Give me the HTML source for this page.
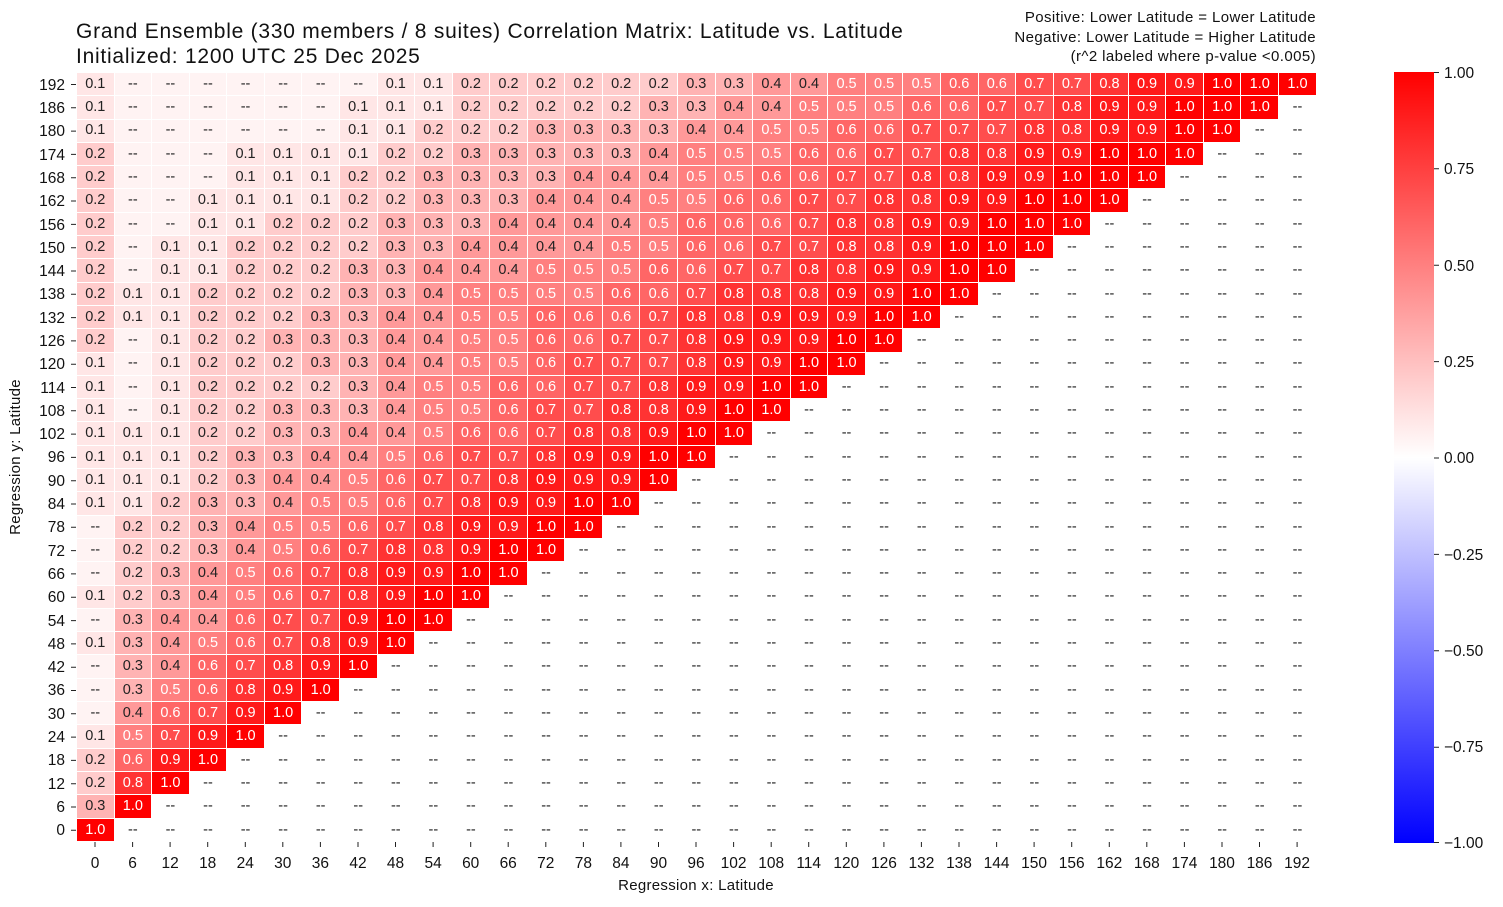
<!DOCTYPE html>
<html><head><meta charset="utf-8"><style>
body{margin:0;width:1503px;height:907px;background:#fff;font-family:"Liberation Sans",sans-serif;position:relative;overflow:hidden;color:#111}
.t{position:absolute;white-space:nowrap}
table{position:absolute;left:76px;top:72px;width:1241px;height:770px;border-collapse:collapse;table-layout:fixed}
td{border:1px solid #fff;padding:0;text-align:center;font-size:14.5px;line-height:1;height:22.3px;color:#222;overflow:hidden}
.m{background:#fff3f3}
.c1{background:#ffe6e6}.c2{background:#ffcccc}.c3{background:#ffb3b3}.c4{background:#ff9999}
.c5{background:#ff8080;color:#fff}.c6{background:#ff6666;color:#fff}.c7{background:#ff4d4d;color:#fff}
.c8{background:#ff3333;color:#fff}.c9{background:#ff1a1a;color:#fff}.c10{background:#ff0000;color:#fff}
</style></head><body>
<div class="t" style="left:76px;top:19px;font-size:21px;letter-spacing:0.75px;line-height:25px">Grand Ensemble (330 members / 8 suites) Correlation Matrix: Latitude vs. Latitude<br>Initialized: 1200 UTC 25 Dec 2025</div>
<div class="t" style="right:187px;top:8px;font-size:15px;letter-spacing:0.4px;line-height:19.5px;text-align:right">Positive: Lower Latitude = Lower Latitude<br>Negative: Lower Latitude = Higher Latitude<br>(r^2 labeled where p-value &lt;0.005)</div>
<table>
<tr><td class=c1>0.1<td class=m>--<td class=m>--<td class=m>--<td class=m>--<td class=m>--<td class=m>--<td class=m>--<td class=c1>0.1<td class=c1>0.1<td class=c2>0.2<td class=c2>0.2<td class=c2>0.2<td class=c2>0.2<td class=c2>0.2<td class=c2>0.2<td class=c3>0.3<td class=c3>0.3<td class=c4>0.4<td class=c4>0.4<td class=c5>0.5<td class=c5>0.5<td class=c5>0.5<td class=c6>0.6<td class=c6>0.6<td class=c7>0.7<td class=c7>0.7<td class=c8>0.8<td class=c9>0.9<td class=c9>0.9<td class=c10>1.0<td class=c10>1.0<td class=c10>1.0
<tr><td class=c1>0.1<td class=m>--<td class=m>--<td class=m>--<td class=m>--<td class=m>--<td class=m>--<td class=c1>0.1<td class=c1>0.1<td class=c1>0.1<td class=c2>0.2<td class=c2>0.2<td class=c2>0.2<td class=c2>0.2<td class=c2>0.2<td class=c3>0.3<td class=c3>0.3<td class=c4>0.4<td class=c4>0.4<td class=c5>0.5<td class=c5>0.5<td class=c5>0.5<td class=c6>0.6<td class=c6>0.6<td class=c7>0.7<td class=c7>0.7<td class=c8>0.8<td class=c9>0.9<td class=c9>0.9<td class=c10>1.0<td class=c10>1.0<td class=c10>1.0<td>--
<tr><td class=c1>0.1<td class=m>--<td class=m>--<td class=m>--<td class=m>--<td class=m>--<td class=m>--<td class=c1>0.1<td class=c1>0.1<td class=c2>0.2<td class=c2>0.2<td class=c2>0.2<td class=c3>0.3<td class=c3>0.3<td class=c3>0.3<td class=c3>0.3<td class=c4>0.4<td class=c4>0.4<td class=c5>0.5<td class=c5>0.5<td class=c6>0.6<td class=c6>0.6<td class=c7>0.7<td class=c7>0.7<td class=c7>0.7<td class=c8>0.8<td class=c8>0.8<td class=c9>0.9<td class=c9>0.9<td class=c10>1.0<td class=c10>1.0<td>--<td>--
<tr><td class=c2>0.2<td class=m>--<td class=m>--<td class=m>--<td class=c1>0.1<td class=c1>0.1<td class=c1>0.1<td class=c1>0.1<td class=c2>0.2<td class=c2>0.2<td class=c3>0.3<td class=c3>0.3<td class=c3>0.3<td class=c3>0.3<td class=c3>0.3<td class=c4>0.4<td class=c5>0.5<td class=c5>0.5<td class=c5>0.5<td class=c6>0.6<td class=c6>0.6<td class=c7>0.7<td class=c7>0.7<td class=c8>0.8<td class=c8>0.8<td class=c9>0.9<td class=c9>0.9<td class=c10>1.0<td class=c10>1.0<td class=c10>1.0<td>--<td>--<td>--
<tr><td class=c2>0.2<td class=m>--<td class=m>--<td class=m>--<td class=c1>0.1<td class=c1>0.1<td class=c1>0.1<td class=c2>0.2<td class=c2>0.2<td class=c3>0.3<td class=c3>0.3<td class=c3>0.3<td class=c3>0.3<td class=c4>0.4<td class=c4>0.4<td class=c4>0.4<td class=c5>0.5<td class=c5>0.5<td class=c6>0.6<td class=c6>0.6<td class=c7>0.7<td class=c7>0.7<td class=c8>0.8<td class=c8>0.8<td class=c9>0.9<td class=c9>0.9<td class=c10>1.0<td class=c10>1.0<td class=c10>1.0<td>--<td>--<td>--<td>--
<tr><td class=c2>0.2<td class=m>--<td class=m>--<td class=c1>0.1<td class=c1>0.1<td class=c1>0.1<td class=c1>0.1<td class=c2>0.2<td class=c2>0.2<td class=c3>0.3<td class=c3>0.3<td class=c3>0.3<td class=c4>0.4<td class=c4>0.4<td class=c4>0.4<td class=c5>0.5<td class=c5>0.5<td class=c6>0.6<td class=c6>0.6<td class=c7>0.7<td class=c7>0.7<td class=c8>0.8<td class=c8>0.8<td class=c9>0.9<td class=c9>0.9<td class=c10>1.0<td class=c10>1.0<td class=c10>1.0<td>--<td>--<td>--<td>--<td>--
<tr><td class=c2>0.2<td class=m>--<td class=m>--<td class=c1>0.1<td class=c1>0.1<td class=c2>0.2<td class=c2>0.2<td class=c2>0.2<td class=c3>0.3<td class=c3>0.3<td class=c3>0.3<td class=c4>0.4<td class=c4>0.4<td class=c4>0.4<td class=c4>0.4<td class=c5>0.5<td class=c6>0.6<td class=c6>0.6<td class=c6>0.6<td class=c7>0.7<td class=c8>0.8<td class=c8>0.8<td class=c9>0.9<td class=c9>0.9<td class=c10>1.0<td class=c10>1.0<td class=c10>1.0<td>--<td>--<td>--<td>--<td>--<td>--
<tr><td class=c2>0.2<td class=m>--<td class=c1>0.1<td class=c1>0.1<td class=c2>0.2<td class=c2>0.2<td class=c2>0.2<td class=c2>0.2<td class=c3>0.3<td class=c3>0.3<td class=c4>0.4<td class=c4>0.4<td class=c4>0.4<td class=c4>0.4<td class=c5>0.5<td class=c5>0.5<td class=c6>0.6<td class=c6>0.6<td class=c7>0.7<td class=c7>0.7<td class=c8>0.8<td class=c8>0.8<td class=c9>0.9<td class=c10>1.0<td class=c10>1.0<td class=c10>1.0<td>--<td>--<td>--<td>--<td>--<td>--<td>--
<tr><td class=c2>0.2<td class=m>--<td class=c1>0.1<td class=c1>0.1<td class=c2>0.2<td class=c2>0.2<td class=c2>0.2<td class=c3>0.3<td class=c3>0.3<td class=c4>0.4<td class=c4>0.4<td class=c4>0.4<td class=c5>0.5<td class=c5>0.5<td class=c5>0.5<td class=c6>0.6<td class=c6>0.6<td class=c7>0.7<td class=c7>0.7<td class=c8>0.8<td class=c8>0.8<td class=c9>0.9<td class=c9>0.9<td class=c10>1.0<td class=c10>1.0<td>--<td>--<td>--<td>--<td>--<td>--<td>--<td>--
<tr><td class=c2>0.2<td class=c1>0.1<td class=c1>0.1<td class=c2>0.2<td class=c2>0.2<td class=c2>0.2<td class=c2>0.2<td class=c3>0.3<td class=c3>0.3<td class=c4>0.4<td class=c5>0.5<td class=c5>0.5<td class=c5>0.5<td class=c5>0.5<td class=c6>0.6<td class=c6>0.6<td class=c7>0.7<td class=c8>0.8<td class=c8>0.8<td class=c8>0.8<td class=c9>0.9<td class=c9>0.9<td class=c10>1.0<td class=c10>1.0<td>--<td>--<td>--<td>--<td>--<td>--<td>--<td>--<td>--
<tr><td class=c2>0.2<td class=c1>0.1<td class=c1>0.1<td class=c2>0.2<td class=c2>0.2<td class=c2>0.2<td class=c3>0.3<td class=c3>0.3<td class=c4>0.4<td class=c4>0.4<td class=c5>0.5<td class=c5>0.5<td class=c6>0.6<td class=c6>0.6<td class=c6>0.6<td class=c7>0.7<td class=c8>0.8<td class=c8>0.8<td class=c9>0.9<td class=c9>0.9<td class=c9>0.9<td class=c10>1.0<td class=c10>1.0<td>--<td>--<td>--<td>--<td>--<td>--<td>--<td>--<td>--<td>--
<tr><td class=c2>0.2<td class=m>--<td class=c1>0.1<td class=c2>0.2<td class=c2>0.2<td class=c3>0.3<td class=c3>0.3<td class=c3>0.3<td class=c4>0.4<td class=c4>0.4<td class=c5>0.5<td class=c5>0.5<td class=c6>0.6<td class=c6>0.6<td class=c7>0.7<td class=c7>0.7<td class=c8>0.8<td class=c9>0.9<td class=c9>0.9<td class=c9>0.9<td class=c10>1.0<td class=c10>1.0<td>--<td>--<td>--<td>--<td>--<td>--<td>--<td>--<td>--<td>--<td>--
<tr><td class=c1>0.1<td class=m>--<td class=c1>0.1<td class=c2>0.2<td class=c2>0.2<td class=c2>0.2<td class=c3>0.3<td class=c3>0.3<td class=c4>0.4<td class=c4>0.4<td class=c5>0.5<td class=c5>0.5<td class=c6>0.6<td class=c7>0.7<td class=c7>0.7<td class=c7>0.7<td class=c8>0.8<td class=c9>0.9<td class=c9>0.9<td class=c10>1.0<td class=c10>1.0<td>--<td>--<td>--<td>--<td>--<td>--<td>--<td>--<td>--<td>--<td>--<td>--
<tr><td class=c1>0.1<td class=m>--<td class=c1>0.1<td class=c2>0.2<td class=c2>0.2<td class=c2>0.2<td class=c2>0.2<td class=c3>0.3<td class=c4>0.4<td class=c5>0.5<td class=c5>0.5<td class=c6>0.6<td class=c6>0.6<td class=c7>0.7<td class=c7>0.7<td class=c8>0.8<td class=c9>0.9<td class=c9>0.9<td class=c10>1.0<td class=c10>1.0<td>--<td>--<td>--<td>--<td>--<td>--<td>--<td>--<td>--<td>--<td>--<td>--<td>--
<tr><td class=c1>0.1<td class=m>--<td class=c1>0.1<td class=c2>0.2<td class=c2>0.2<td class=c3>0.3<td class=c3>0.3<td class=c3>0.3<td class=c4>0.4<td class=c5>0.5<td class=c5>0.5<td class=c6>0.6<td class=c7>0.7<td class=c7>0.7<td class=c8>0.8<td class=c8>0.8<td class=c9>0.9<td class=c10>1.0<td class=c10>1.0<td>--<td>--<td>--<td>--<td>--<td>--<td>--<td>--<td>--<td>--<td>--<td>--<td>--<td>--
<tr><td class=c1>0.1<td class=c1>0.1<td class=c1>0.1<td class=c2>0.2<td class=c2>0.2<td class=c3>0.3<td class=c3>0.3<td class=c4>0.4<td class=c4>0.4<td class=c5>0.5<td class=c6>0.6<td class=c6>0.6<td class=c7>0.7<td class=c8>0.8<td class=c8>0.8<td class=c9>0.9<td class=c10>1.0<td class=c10>1.0<td>--<td>--<td>--<td>--<td>--<td>--<td>--<td>--<td>--<td>--<td>--<td>--<td>--<td>--<td>--
<tr><td class=c1>0.1<td class=c1>0.1<td class=c1>0.1<td class=c2>0.2<td class=c3>0.3<td class=c3>0.3<td class=c4>0.4<td class=c4>0.4<td class=c5>0.5<td class=c6>0.6<td class=c7>0.7<td class=c7>0.7<td class=c8>0.8<td class=c9>0.9<td class=c9>0.9<td class=c10>1.0<td class=c10>1.0<td>--<td>--<td>--<td>--<td>--<td>--<td>--<td>--<td>--<td>--<td>--<td>--<td>--<td>--<td>--<td>--
<tr><td class=c1>0.1<td class=c1>0.1<td class=c1>0.1<td class=c2>0.2<td class=c3>0.3<td class=c4>0.4<td class=c4>0.4<td class=c5>0.5<td class=c6>0.6<td class=c7>0.7<td class=c7>0.7<td class=c8>0.8<td class=c9>0.9<td class=c9>0.9<td class=c9>0.9<td class=c10>1.0<td>--<td>--<td>--<td>--<td>--<td>--<td>--<td>--<td>--<td>--<td>--<td>--<td>--<td>--<td>--<td>--<td>--
<tr><td class=c1>0.1<td class=c1>0.1<td class=c2>0.2<td class=c3>0.3<td class=c3>0.3<td class=c4>0.4<td class=c5>0.5<td class=c5>0.5<td class=c6>0.6<td class=c7>0.7<td class=c8>0.8<td class=c9>0.9<td class=c9>0.9<td class=c10>1.0<td class=c10>1.0<td>--<td>--<td>--<td>--<td>--<td>--<td>--<td>--<td>--<td>--<td>--<td>--<td>--<td>--<td>--<td>--<td>--<td>--
<tr><td class=m>--<td class=c2>0.2<td class=c2>0.2<td class=c3>0.3<td class=c4>0.4<td class=c5>0.5<td class=c5>0.5<td class=c6>0.6<td class=c7>0.7<td class=c8>0.8<td class=c9>0.9<td class=c9>0.9<td class=c10>1.0<td class=c10>1.0<td>--<td>--<td>--<td>--<td>--<td>--<td>--<td>--<td>--<td>--<td>--<td>--<td>--<td>--<td>--<td>--<td>--<td>--<td>--
<tr><td class=m>--<td class=c2>0.2<td class=c2>0.2<td class=c3>0.3<td class=c4>0.4<td class=c5>0.5<td class=c6>0.6<td class=c7>0.7<td class=c8>0.8<td class=c8>0.8<td class=c9>0.9<td class=c10>1.0<td class=c10>1.0<td>--<td>--<td>--<td>--<td>--<td>--<td>--<td>--<td>--<td>--<td>--<td>--<td>--<td>--<td>--<td>--<td>--<td>--<td>--<td>--
<tr><td class=m>--<td class=c2>0.2<td class=c3>0.3<td class=c4>0.4<td class=c5>0.5<td class=c6>0.6<td class=c7>0.7<td class=c8>0.8<td class=c9>0.9<td class=c9>0.9<td class=c10>1.0<td class=c10>1.0<td>--<td>--<td>--<td>--<td>--<td>--<td>--<td>--<td>--<td>--<td>--<td>--<td>--<td>--<td>--<td>--<td>--<td>--<td>--<td>--<td>--
<tr><td class=c1>0.1<td class=c2>0.2<td class=c3>0.3<td class=c4>0.4<td class=c5>0.5<td class=c6>0.6<td class=c7>0.7<td class=c8>0.8<td class=c9>0.9<td class=c10>1.0<td class=c10>1.0<td>--<td>--<td>--<td>--<td>--<td>--<td>--<td>--<td>--<td>--<td>--<td>--<td>--<td>--<td>--<td>--<td>--<td>--<td>--<td>--<td>--<td>--
<tr><td class=m>--<td class=c3>0.3<td class=c4>0.4<td class=c4>0.4<td class=c6>0.6<td class=c7>0.7<td class=c7>0.7<td class=c9>0.9<td class=c10>1.0<td class=c10>1.0<td>--<td>--<td>--<td>--<td>--<td>--<td>--<td>--<td>--<td>--<td>--<td>--<td>--<td>--<td>--<td>--<td>--<td>--<td>--<td>--<td>--<td>--<td>--
<tr><td class=c1>0.1<td class=c3>0.3<td class=c4>0.4<td class=c5>0.5<td class=c6>0.6<td class=c7>0.7<td class=c8>0.8<td class=c9>0.9<td class=c10>1.0<td>--<td>--<td>--<td>--<td>--<td>--<td>--<td>--<td>--<td>--<td>--<td>--<td>--<td>--<td>--<td>--<td>--<td>--<td>--<td>--<td>--<td>--<td>--<td>--
<tr><td class=m>--<td class=c3>0.3<td class=c4>0.4<td class=c6>0.6<td class=c7>0.7<td class=c8>0.8<td class=c9>0.9<td class=c10>1.0<td>--<td>--<td>--<td>--<td>--<td>--<td>--<td>--<td>--<td>--<td>--<td>--<td>--<td>--<td>--<td>--<td>--<td>--<td>--<td>--<td>--<td>--<td>--<td>--<td>--
<tr><td class=m>--<td class=c3>0.3<td class=c5>0.5<td class=c6>0.6<td class=c8>0.8<td class=c9>0.9<td class=c10>1.0<td>--<td>--<td>--<td>--<td>--<td>--<td>--<td>--<td>--<td>--<td>--<td>--<td>--<td>--<td>--<td>--<td>--<td>--<td>--<td>--<td>--<td>--<td>--<td>--<td>--<td>--
<tr><td class=m>--<td class=c4>0.4<td class=c6>0.6<td class=c7>0.7<td class=c9>0.9<td class=c10>1.0<td>--<td>--<td>--<td>--<td>--<td>--<td>--<td>--<td>--<td>--<td>--<td>--<td>--<td>--<td>--<td>--<td>--<td>--<td>--<td>--<td>--<td>--<td>--<td>--<td>--<td>--<td>--
<tr><td class=c1>0.1<td class=c5>0.5<td class=c7>0.7<td class=c9>0.9<td class=c10>1.0<td>--<td>--<td>--<td>--<td>--<td>--<td>--<td>--<td>--<td>--<td>--<td>--<td>--<td>--<td>--<td>--<td>--<td>--<td>--<td>--<td>--<td>--<td>--<td>--<td>--<td>--<td>--<td>--
<tr><td class=c2>0.2<td class=c6>0.6<td class=c9>0.9<td class=c10>1.0<td>--<td>--<td>--<td>--<td>--<td>--<td>--<td>--<td>--<td>--<td>--<td>--<td>--<td>--<td>--<td>--<td>--<td>--<td>--<td>--<td>--<td>--<td>--<td>--<td>--<td>--<td>--<td>--<td>--
<tr><td class=c2>0.2<td class=c8>0.8<td class=c10>1.0<td>--<td>--<td>--<td>--<td>--<td>--<td>--<td>--<td>--<td>--<td>--<td>--<td>--<td>--<td>--<td>--<td>--<td>--<td>--<td>--<td>--<td>--<td>--<td>--<td>--<td>--<td>--<td>--<td>--<td>--
<tr><td class=c3>0.3<td class=c10>1.0<td>--<td>--<td>--<td>--<td>--<td>--<td>--<td>--<td>--<td>--<td>--<td>--<td>--<td>--<td>--<td>--<td>--<td>--<td>--<td>--<td>--<td>--<td>--<td>--<td>--<td>--<td>--<td>--<td>--<td>--<td>--
<tr><td class=c10>1.0<td>--<td>--<td>--<td>--<td>--<td>--<td>--<td>--<td>--<td>--<td>--<td>--<td>--<td>--<td>--<td>--<td>--<td>--<td>--<td>--<td>--<td>--<td>--<td>--<td>--<td>--<td>--<td>--<td>--<td>--<td>--<td>--
</table>
<svg width="1503" height="907" style="position:absolute;left:0;top:0" xmlns="http://www.w3.org/2000/svg">
<g stroke="#222" stroke-width="1">
<path d="M71 84.5h5M71 107.8h5M71 131.1h5M71 154.4h5M71 177.7h5M71 201h5M71 224.4h5M71 247.7h5M71 271h5M71 294.3h5M71 317.6h5M71 340.9h5M71 364.2h5M71 387.5h5M71 410.8h5M71 434.1h5M71 457.4h5M71 480.7h5M71 504h5M71 527.3h5M71 550.6h5M71 573.9h5M71 597.2h5M71 620.6h5M71 643.9h5M71 667.2h5M71 690.5h5M71 713.8h5M71 737.1h5M71 760.4h5M71 783.7h5M71 807h5M71 830.3h5"/>
</g>
<defs><linearGradient id="g" x1="0" y1="1" x2="0" y2="0"><stop offset="0" stop-color="#0000ff"/><stop offset="0.5" stop-color="#ffffff"/><stop offset="1" stop-color="#ff0000"/></linearGradient></defs>
<rect x="1394" y="72" width="40" height="771" fill="url(#g)"/>
<g stroke="#222"><path d="M1434 72.5h5M1434 168.8h5M1434 265.2h5M1434 361.6h5M1434 458h5M1434 554.4h5M1434 650.8h5M1434 747.2h5M1434 842.5h5"/></g>
<text x="20" y="457" transform="rotate(-90 20 457)" text-anchor="middle" font-size="15" font-family="Liberation Sans, sans-serif" fill="#111" letter-spacing="0.3">Regression y: Latitude</text>
<text x="696" y="890" text-anchor="middle" font-size="15" font-family="Liberation Sans, sans-serif" fill="#111" letter-spacing="0.3">Regression x: Latitude</text>
<g font-size="15.5" font-family="Liberation Sans, sans-serif" fill="#111" text-anchor="middle">
<text x="95" y="868">0</text><text x="132.6" y="868">6</text><text x="170.1" y="868">12</text><text x="207.7" y="868">18</text><text x="245.3" y="868">24</text><text x="282.8" y="868">30</text><text x="320.4" y="868">36</text><text x="358" y="868">42</text><text x="395.5" y="868">48</text><text x="433.1" y="868">54</text><text x="470.7" y="868">60</text><text x="508.2" y="868">66</text><text x="545.8" y="868">72</text><text x="583.4" y="868">78</text><text x="620.9" y="868">84</text><text x="658.5" y="868">90</text><text x="696" y="868">96</text><text x="733.6" y="868">102</text><text x="771.2" y="868">108</text><text x="808.7" y="868">114</text><text x="846.3" y="868">120</text><text x="883.9" y="868">126</text><text x="921.4" y="868">132</text><text x="959" y="868">138</text><text x="996.6" y="868">144</text><text x="1034.1" y="868">150</text><text x="1071.7" y="868">156</text><text x="1109.3" y="868">162</text><text x="1146.8" y="868">168</text><text x="1184.4" y="868">174</text><text x="1222" y="868">180</text><text x="1259.5" y="868">186</text><text x="1297.1" y="868">192</text>
</g>
<g stroke="#222"><path d="M95 842v5M132.6 842v5M170.1 842v5M207.7 842v5M245.3 842v5M282.8 842v5M320.4 842v5M358 842v5M395.5 842v5M433.1 842v5M470.7 842v5M508.2 842v5M545.8 842v5M583.4 842v5M620.9 842v5M658.5 842v5M696 842v5M733.6 842v5M771.2 842v5M808.7 842v5M846.3 842v5M883.9 842v5M921.4 842v5M959 842v5M996.6 842v5M1034.1 842v5M1071.7 842v5M1109.3 842v5M1146.8 842v5M1184.4 842v5M1222 842v5M1259.5 842v5M1297.1 842v5"/></g>
<g font-size="15.5" font-family="Liberation Sans, sans-serif" fill="#111" text-anchor="end">
<text x="65" y="90">192</text><text x="65" y="113">186</text><text x="65" y="136">180</text><text x="65" y="160">174</text><text x="65" y="183">168</text><text x="65" y="206">162</text><text x="65" y="230">156</text><text x="65" y="253">150</text><text x="65" y="276">144</text><text x="65" y="299">138</text><text x="65" y="323">132</text><text x="65" y="346">126</text><text x="65" y="369">120</text><text x="65" y="393">114</text><text x="65" y="416">108</text><text x="65" y="439">102</text><text x="65" y="462">96</text><text x="65" y="486">90</text><text x="65" y="509">84</text><text x="65" y="532">78</text><text x="65" y="556">72</text><text x="65" y="579">66</text><text x="65" y="602">60</text><text x="65" y="626">54</text><text x="65" y="649">48</text><text x="65" y="672">42</text><text x="65" y="695">36</text><text x="65" y="719">30</text><text x="65" y="742">24</text><text x="65" y="765">18</text><text x="65" y="789">12</text><text x="65" y="812">6</text><text x="65" y="835">0</text>
</g>
<g font-size="15.5" font-family="Liberation Sans, sans-serif" fill="#111">
<text x="1444" y="78">1.00</text><text x="1444" y="174">0.75</text><text x="1444" y="271">0.50</text><text x="1444" y="367">0.25</text><text x="1444" y="463">0.00</text><text x="1444" y="560">−0.25</text><text x="1444" y="656">−0.50</text><text x="1444" y="752">−0.75</text><text x="1444" y="848">−1.00</text>
</g>
</svg>
</body></html>
